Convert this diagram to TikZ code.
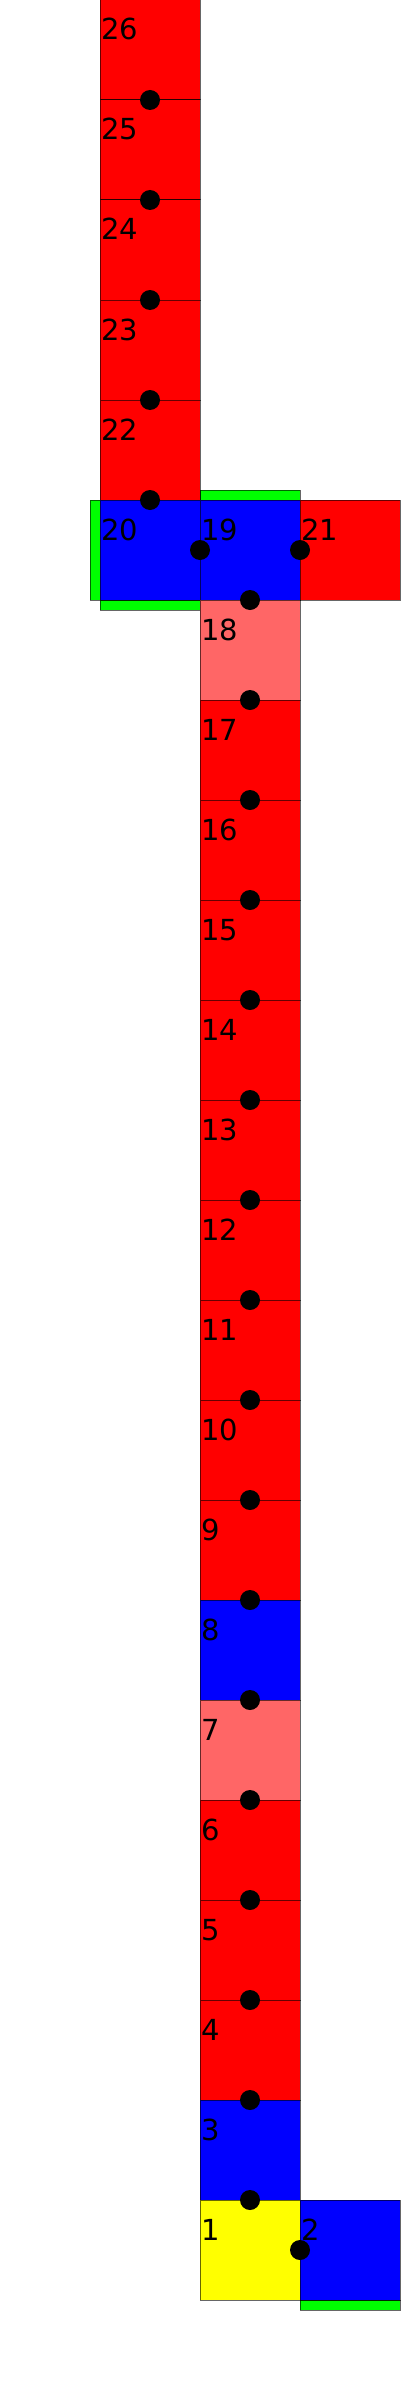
\documentclass[tikz,border=0pt]{standalone}
\usepackage{fontspec}
\newfontfamily\labfont{DejaVu Sans}
\definecolor{cred}{RGB}{255,0,0}
\definecolor{cpink}{RGB}{255,102,102}
\definecolor{cblue}{RGB}{0,0,255}
\definecolor{cyel}{RGB}{255,255,0}
\definecolor{cgreen}{RGB}{0,255,0}
\tikzset{
  cell/.style={draw=black, draw opacity=0.6, line width=1pt, minimum width=100pt, minimum height=100pt, inner sep=0pt, outer sep=0pt, anchor=north west},
  strip/.style={draw=black, draw opacity=0.6, line width=1pt, fill=cgreen},
  lab/.style={anchor=base west, inner sep=0pt, font=\labfont\fontsize{29}{29}\selectfont},
  dot/.style={circle, fill=black, minimum size=20pt, inner sep=0pt}
}
\newcommand{\cellat}[4]{% name, x, y, colour
  \node[cell, fill=#4] (c#1) at (#2,#3) {};
  \node[lab] (l#1) at (#2+1,#3+40) {#1};
}
\begin{document}
\begin{tikzpicture}[x=1pt,y=-1pt]
\useasboundingbox (0,0) rectangle (400,2400);
% green strips
\draw[strip] (90,500) rectangle (100,600);
\draw[strip] (100,600) rectangle (200,610);
\draw[strip] (200,490) rectangle (300,500);
\draw[strip] (300,2300) rectangle (400,2310);
% upper column
\cellat{26}{100}{0}{cred}
\cellat{25}{100}{100}{cred}
\cellat{24}{100}{200}{cred}
\cellat{23}{100}{300}{cred}
\cellat{22}{100}{400}{cred}
\cellat{20}{100}{500}{cblue}
\cellat{19}{200}{500}{cblue}
\cellat{21}{300}{500}{cred}
% main column
\cellat{18}{200}{600}{cpink}
\cellat{17}{200}{700}{cred}
\cellat{16}{200}{800}{cred}
\cellat{15}{200}{900}{cred}
\cellat{14}{200}{1000}{cred}
\cellat{13}{200}{1100}{cred}
\cellat{12}{200}{1200}{cred}
\cellat{11}{200}{1300}{cred}
\cellat{10}{200}{1400}{cred}
\cellat{9}{200}{1500}{cred}
\cellat{8}{200}{1600}{cblue}
\cellat{7}{200}{1700}{cpink}
\cellat{6}{200}{1800}{cred}
\cellat{5}{200}{1900}{cred}
\cellat{4}{200}{2000}{cred}
\cellat{3}{200}{2100}{cblue}
\cellat{1}{200}{2200}{cyel}
\cellat{2}{300}{2200}{cblue}
% joints
\foreach \a/\b in {26/25,25/24,24/23,23/22,22/20,19/18,18/17,17/16,16/15,15/14,14/13,13/12,12/11,11/10,10/9,9/8,8/7,7/6,6/5,5/4,4/3,3/1}{
  \node[dot] (d\a-\b) at (c\a.south) {};
}
\node[dot] (d20-19) at (c20.east) {};
\node[dot] (d19-21) at (c19.east) {};
\node[dot] (d1-2) at (c1.east) {};
\end{tikzpicture}
\end{document}
